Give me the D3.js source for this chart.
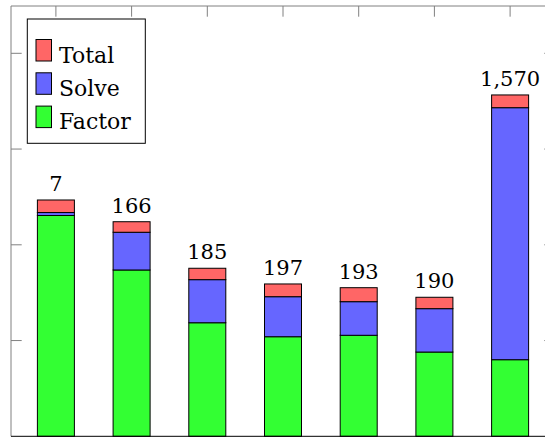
<!DOCTYPE html>
<html>
<head>
<meta charset="utf-8">
<script src="https://cdn.jsdelivr.net/npm/d3@7"></script>
<style>
  body { margin: 0; background: #fff; }
  svg { display: block; }
</style>
</head>
<body>
<div id="chart"></div>
<script>
// data
const categories = ["c1", "c2", "c3", "c4", "c5", "c6", "c7"];
const factor = [2.306, 1.737, 1.186, 1.040, 1.055, 0.880, 0.800];
const solve  = [0.031, 0.394, 0.450, 0.418, 0.351, 0.453, 2.632];
const total  = [0.131, 0.110, 0.119, 0.133, 0.146, 0.119, 0.133];
const counts = [7, 166, 185, 197, 193, 190, 1570];
const yTicks = [0, 1, 2, 3, 4];

const width = 545, height = 437;
const plot = { left: 11, right: 555, top: 6, bottom: 436.3 };
const tickLen = 10.7;
const serif = "DejaVu Serif";

const colors = { factor: "#33ff33", solve: "#6666ff", total: "#ff6666" };
const keys = ["factor", "solve", "total"];

const rows = categories.map((c, i) => ({
  cat: c, factor: factor[i], solve: solve[i], total: total[i], count: counts[i]
}));

const svg = d3.select("#chart").append("svg")
  .attr("width", width)
  .attr("height", height);

const x = d3.scalePoint()
  .domain(categories)
  .range([plot.left, plot.right])
  .padding(0.593);

const y = d3.scaleLinear()
  .domain([0, 4.494])
  .range([plot.bottom, plot.top]);

const barW = 37;

// frame + ticks (grey), bottom line black
const axisCol = "#808080";
const frame = svg.append("g").attr("stroke", axisCol).attr("stroke-width", 1).attr("fill", "none");
frame.append("line").attr("x1", plot.left).attr("x2", plot.left).attr("y1", plot.top).attr("y2", plot.bottom);
frame.append("line").attr("x1", plot.right).attr("x2", plot.right).attr("y1", plot.top).attr("y2", plot.bottom);
frame.append("line").attr("x1", plot.left).attr("x2", plot.right).attr("y1", plot.top).attr("y2", plot.top);

frame.selectAll(".ytl").data(yTicks.slice(1)).join("line")
  .attr("x1", plot.left).attr("x2", plot.left + tickLen)
  .attr("y1", d => y(d)).attr("y2", d => y(d));
frame.selectAll(".ytr").data(yTicks.slice(1)).join("line")
  .attr("x1", plot.right).attr("x2", plot.right - tickLen)
  .attr("y1", d => y(d)).attr("y2", d => y(d));
frame.selectAll(".xtt").data(categories).join("line")
  .attr("x1", d => x(d)).attr("x2", d => x(d))
  .attr("y1", plot.top).attr("y2", plot.top + tickLen);

// stacked bars
const series = d3.stack().keys(keys)(rows);

svg.append("g")
  .selectAll("g")
  .data(series)
  .join("g")
    .attr("fill", d => colors[d.key])
  .selectAll("rect")
  .data(d => d)
  .join("rect")
    .attr("x", d => x(d.data.cat) - barW / 2)
    .attr("y", d => y(d[1]))
    .attr("width", barW)
    .attr("height", d => y(d[0]) - y(d[1]))
    .attr("stroke", "#000")
    .attr("stroke-width", 1);

svg.append("line")
  .attr("x1", plot.left).attr("x2", plot.right)
  .attr("y1", plot.bottom).attr("y2", plot.bottom)
  .attr("stroke", "#000").attr("stroke-width", 1);

// count labels above bars
svg.append("g")
  .selectAll("text")
  .data(rows)
  .join("text")
    .attr("x", d => x(d.cat))
    .attr("y", d => y(d.factor + d.solve + d.total) - 9)
    .attr("text-anchor", "middle")
    .attr("font-family", serif)
    .attr("font-size", 21)
    .text(d => d3.format(",")(d.count));

// legend
const legend = svg.append("g");
legend.append("rect")
  .attr("x", 27.3).attr("y", 19)
  .attr("width", 118).attr("height", 124.3)
  .attr("fill", "#fff").attr("stroke", "#000");

const legendItems = [
  { label: "Total", key: "total" },
  { label: "Solve", key: "solve" },
  { label: "Factor", key: "factor" }
];

const li = legend.selectAll(".item")
  .data(legendItems)
  .join("g")
    .attr("transform", (d, i) => `translate(0, ${i * 33.3})`);

li.append("rect")
  .attr("x", 36).attr("y", 39.5)
  .attr("width", 15.5).attr("height", 21.5)
  .attr("fill", d => colors[d.key])
  .attr("stroke", "#000");

li.append("text")
  .attr("x", 59)
  .attr("y", 62.7)
  .attr("font-family", serif)
  .attr("font-size", 22)
  .text(d => d.label);
</script>
</body>
</html>
